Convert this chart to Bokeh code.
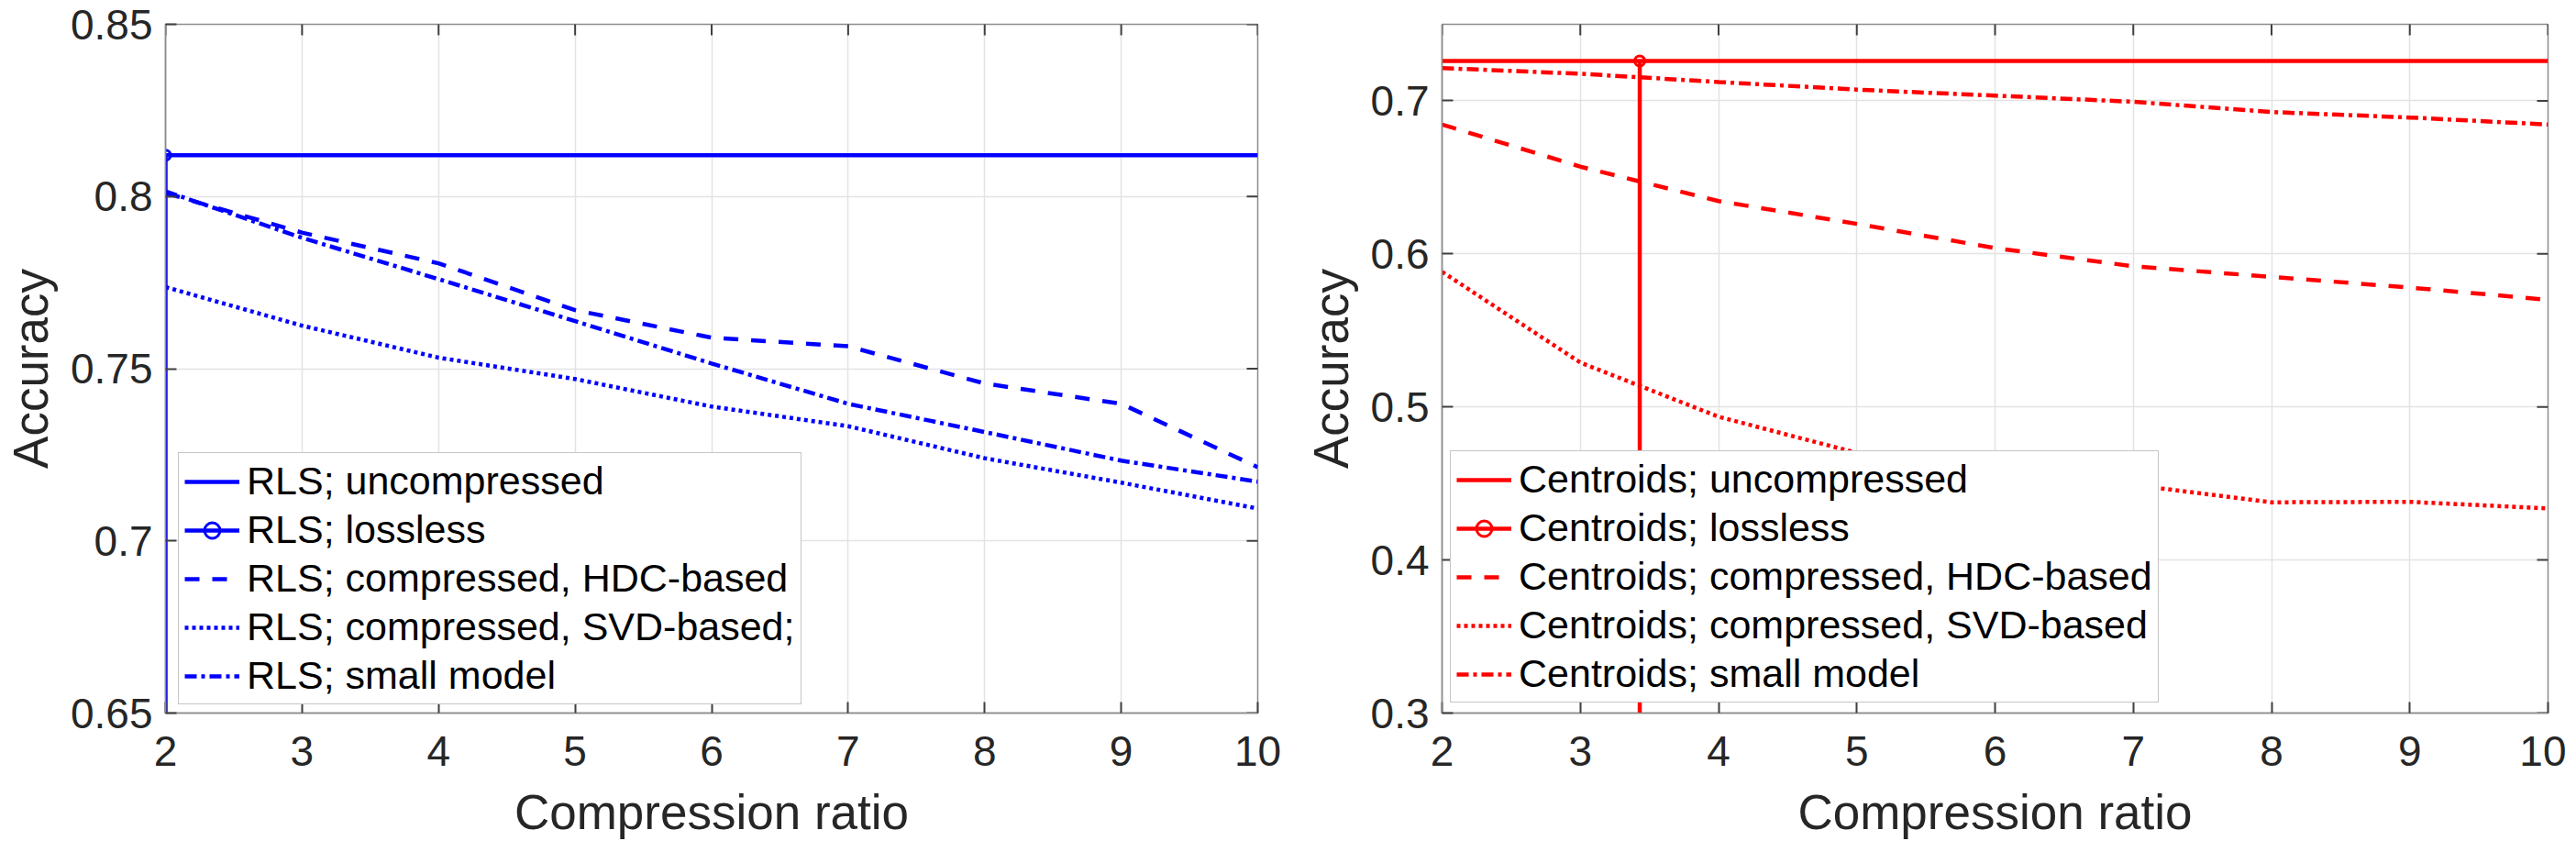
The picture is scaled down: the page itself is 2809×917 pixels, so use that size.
import math
from bokeh.plotting import figure
from bokeh.models import Range1d, FixedTicker, Legend, LegendItem
from bokeh.layouts import row
from bokeh.embed import file_html
from bokeh.resources import INLINE

# ---------------- data ----------------
ratios = [2, 3, 4, 5, 6, 7, 8, 9, 10]

rls_uncompressed = 0.812
rls_lossless_ratio = 2.0
rls_hdc = [0.801, 0.7895, 0.7806, 0.767, 0.759, 0.7565, 0.7457, 0.7398, 0.7214]
rls_svd = [0.7737, 0.7625, 0.7532, 0.747, 0.739, 0.7333, 0.724, 0.7169, 0.7094]
rls_small = [0.8015, 0.788, 0.776, 0.7638, 0.7515, 0.7398, 0.7316, 0.7233, 0.7172]

cent_uncompressed = 0.726
cent_lossless_ratio = 3.43
cent_hdc = [0.6845, 0.657, 0.6345, 0.6196, 0.6038, 0.5919, 0.585, 0.578, 0.570]
cent_svd = [0.5883, 0.529, 0.4936, 0.470, 0.459, 0.449, 0.4377, 0.438, 0.4337]
cent_small = [0.7214, 0.7177, 0.7123, 0.7073, 0.7034, 0.6994, 0.6927, 0.6891, 0.6845]

x_range_left = (2, 10)
y_range_left = (0.65, 0.85)
x_range_right = (2, 10)
y_range_right = (0.3, 0.75)

x_ticks = [2, 3, 4, 5, 6, 7, 8, 9, 10]
y_ticks_left = [0.65, 0.7, 0.75, 0.8, 0.85]
y_tick_labels_left = ["0.65", "0.7", "0.75", "0.8", "0.85"]
y_ticks_right = [0.3, 0.4, 0.5, 0.6, 0.7]
y_tick_labels_right = ["0.3", "0.4", "0.5", "0.6", "0.7"]

labels_left = ["RLS; uncompressed", "RLS; lossless", "RLS; compressed, HDC-based",
               "RLS; compressed, SVD-based;", "RLS; small model"]
labels_right = ["Centroids; uncompressed", "Centroids; lossless", "Centroids; compressed, HDC-based",
                "Centroids; compressed, SVD-based", "Centroids; small model"]

FONT = "Liberation Sans"
TXT = "#262626"
BOX = "#8c8c8c"
TICK = "#404040"


def style_axis(ax, ticks, overrides, std):
    ax.ticker = FixedTicker(ticks=ticks)
    ax.major_tick_in = 12
    ax.major_tick_out = 0
    ax.major_tick_line_color = TICK
    ax.major_tick_line_width = 2
    ax.minor_tick_line_color = None
    ax.axis_line_color = BOX
    ax.axis_line_width = 1.5
    ax.major_label_text_font = FONT
    ax.major_label_text_font_size = "46px"
    ax.major_label_text_color = TXT
    ax.major_label_standoff = std
    if overrides is not None:
        ax.major_label_overrides = overrides


def make_panel(width, height, xr, yr, yticks, ylabels, mbl, mbr, ylab_std):
    p = figure(width=width, height=height, x_range=Range1d(*xr), y_range=Range1d(*yr),
               output_backend="svg", toolbar_location=None,
               min_border_left=mbl, min_border_right=mbr, min_border_top=26, min_border_bottom=138)
    p.outline_line_color = BOX
    p.outline_line_width = 1.5
    p.background_fill_color = "white"
    p.border_fill_color = "white"
    style_axis(p.xaxis[0], x_ticks, None, 25)
    style_axis(p.yaxis[0], yticks, {t: l for t, l in zip(yticks, ylabels)}, 14)
    for ax, lab, std in ((p.xaxis[0], "Compression ratio", 18), (p.yaxis[0], "Accuracy", ylab_std)):
        ax.axis_label = lab
        ax.axis_label_text_font = FONT
        ax.axis_label_text_font_size = "53px"
        ax.axis_label_text_font_style = "normal"
        ax.axis_label_text_color = TXT
        ax.axis_label_standoff = std
    p.xgrid.ticker = FixedTicker(ticks=x_ticks)
    p.ygrid.ticker = FixedTicker(ticks=yticks)
    for g in (p.xgrid[0], p.ygrid[0]):
        g.grid_line_color = "#e3e3e3"
        g.grid_line_width = 1.5
    # inward tick marks on the top and right edges of the box (clipped to the frame)
    p.scatter(x=x_ticks, y=[yr[1]] * len(x_ticks), marker="dash", size=24, angle=math.pi / 2,
              line_color=TICK, line_width=2)
    p.scatter(x=[xr[1]] * len(yticks), y=yticks, marker="dash", size=24,
              line_color=TICK, line_width=2)
    return p


def draw(p, color, unc, lossless_x, ybottom, hdc, svd, small, labels, loc):
    lw = 4.5
    r_unc = p.line(x=[ratios[0], ratios[-1]], y=[unc, unc], line_color=color, line_width=lw)
    r_ll = p.line(x=[lossless_x, lossless_x], y=[ybottom, unc], line_color=color, line_width=lw)
    r_llm = p.scatter(x=[lossless_x], y=[unc], marker="circle", size=11, fill_color=None,
                      line_color=color, line_width=3)
    r_hdc = p.line(x=ratios, y=hdc, line_color=color, line_width=lw, line_dash="16 14")
    r_svd = p.line(x=ratios, y=svd, line_color=color, line_width=lw, line_dash="4 4")
    r_sm = p.line(x=ratios, y=small, line_color=color, line_width=lw, line_dash="13 5 4 5")
    items = [LegendItem(label=labels[0], renderers=[r_unc]),
             LegendItem(label=labels[1], renderers=[r_ll, r_llm]),
             LegendItem(label=labels[2], renderers=[r_hdc]),
             LegendItem(label=labels[3], renderers=[r_svd]),
             LegendItem(label=labels[4], renderers=[r_sm])]
    leg = Legend(items=items, location=loc)
    leg.label_text_font = FONT
    leg.label_text_font_size = "43px"
    leg.label_text_color = "black"
    leg.glyph_width = 60
    leg.glyph_height = 42
    leg.label_height = 42
    leg.spacing = 4
    leg.padding = 6
    leg.margin = 0
    leg.label_standoff = 8
    leg.border_line_color = BOX
    leg.border_line_width = 1.5
    leg.background_fill_color = "white"
    leg.background_fill_alpha = 1.0
    p.add_layout(leg, "center")


p1 = make_panel(1398, 917, x_range_left, y_range_left, y_ticks_left, y_tick_labels_left, 178, 27, 11)
draw(p1, "#0000ff", rls_uncompressed, rls_lossless_ratio, 0.0, rls_hdc, rls_svd, rls_small,
     labels_left, (14, 9))

p2 = make_panel(1400, 917, x_range_right, y_range_right, y_ticks_right, y_tick_labels_right, 174, 20, 11)
draw(p2, "#ff0000", cent_uncompressed, cent_lossless_ratio, 0.0, cent_hdc, cent_svd, cent_small,
     labels_right, (9, 11))

layout = row(p1, p2)
open("out.html", "w").write(file_html(layout, INLINE))
